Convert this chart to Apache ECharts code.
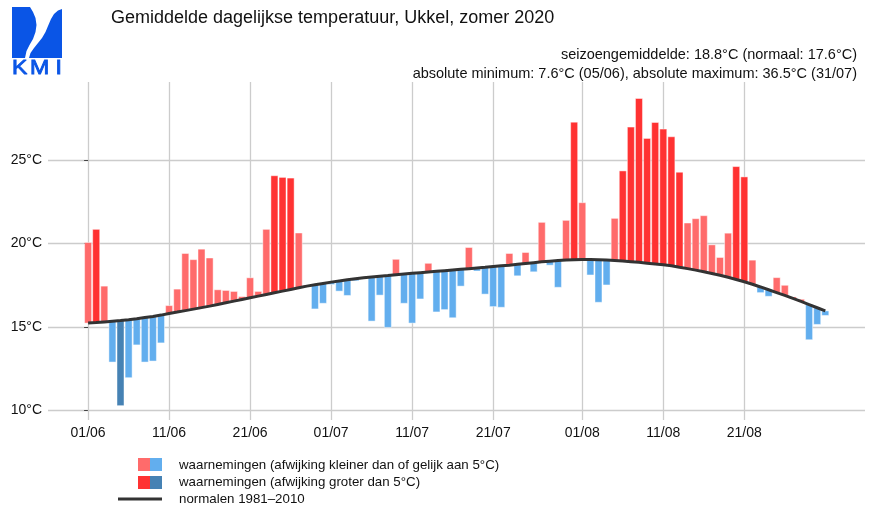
<!DOCTYPE html>
<html lang="nl">
<head>
    <meta charset="utf-8">
    <title>Ukkel zomer 2020</title>
    <script src="https://cdn.jsdelivr.net/npm/echarts@6/dist/echarts.min.js"></script>
    <style>
        * { margin: 0; padding: 0; box-sizing: border-box; }
        html, body { width: 100%; height: 100%; background: #fff; }
        #main { width: 871px; height: 510px; }
    </style>
</head>
<body>
<div id="main"></div>
<script>
    // dag 0 = 01/06/2020
    const tickDays = [0, 10, 20, 30, 40, 50, 61, 71, 81];
    const tickLabels = ['01/06', '11/06', '21/06', '01/07', '11/07', '21/07', '01/08', '11/08', '21/08'];
    const yTicks = [10, 15, 20, 25];

    // gemiddelde dagtemperatuur (°C), 01/06 - 31/08
    const observed = [
        20.06, 20.85, 17.44, 12.88, 10.26, 11.94, 13.91, 12.88, 12.94, 14.03,
        16.27, 17.26, 19.40, 19.03, 19.66, 19.13, 17.22, 17.18, 17.12, 16.81,
        17.94, 17.12, 20.85, 24.07, 23.97, 23.93, 20.63, 17.50, 16.07, 16.41,
        17.54, 17.14, 16.88, 17.76, 17.95, 15.34, 16.90, 14.96, 19.05, 16.41,
        15.22, 16.67, 18.81, 15.89, 16.03, 15.54, 17.44, 19.76, 18.35, 16.96,
        16.21, 16.17, 19.40, 18.06, 19.46, 18.30, 21.27, 18.70, 17.37, 21.39,
        27.29, 22.45, 18.11, 16.47, 17.51, 21.51, 24.36, 26.99, 28.71, 26.31,
        27.27, 26.87, 26.41, 24.28, 21.23, 21.49, 21.67, 19.92, 19.16, 20.62,
        24.62, 24.00, 19.00, 17.05, 16.83, 17.95, 17.49, 16.79, 16.65, 14.22,
        15.14, 15.68
    ];

    // normalen 1981-2010 (°C)
    const normals = [
        15.22, 15.25, 15.29, 15.33, 15.37, 15.42, 15.48, 15.55, 15.62, 15.70,
        15.80, 15.88, 15.97, 16.06, 16.15, 16.24, 16.34, 16.44, 16.54, 16.64,
        16.74, 16.84, 16.94, 17.04, 17.14, 17.24, 17.34, 17.44, 17.52, 17.60,
        17.68, 17.75, 17.82, 17.88, 17.94, 17.99, 18.04, 18.08, 18.13, 18.17,
        18.21, 18.25, 18.29, 18.33, 18.37, 18.41, 18.45, 18.49, 18.53, 18.57,
        18.62, 18.66, 18.70, 18.75, 18.80, 18.85, 18.90, 18.94, 18.98, 19.01,
        19.03, 19.04, 19.04, 19.03, 19.01, 18.98, 18.95, 18.91, 18.87, 18.82,
        18.77, 18.72, 18.66, 18.57, 18.49, 18.40, 18.30, 18.20, 18.09, 17.97,
        17.84, 17.70, 17.55, 17.39, 17.22, 17.05, 16.88, 16.70, 16.52, 16.33,
        16.14, 15.95
    ];

    const FONT = '"Liberation Sans", Arial, sans-serif';
    const colWarm = '#ff6b6b', colHot = '#ff3232';
    const colCool = '#62aeee', colCold = '#4682b4';

    const barData = observed.map((v, i) => [i, v, normals[i]]);
    const lineData = normals.map((v, i) => [i, v]);

    function barColor(obs, norm) {
        const d = obs - norm;
        if (d > 5) return colHot;
        if (d >= 0) return colWarm;
        if (d < -5) return colCold;
        return colCool;
    }

    const chart = echarts.init(document.getElementById('main'), null, { renderer: 'canvas' });

    const legendItems = [
        { type: 'rect', shape: { x: 138, y: 458, width: 12, height: 13 }, style: { fill: colWarm } },
        { type: 'rect', shape: { x: 150, y: 458, width: 12, height: 13 }, style: { fill: colCool } },
        { type: 'rect', shape: { x: 138, y: 476, width: 12, height: 13 }, style: { fill: colHot } },
        { type: 'rect', shape: { x: 150, y: 476, width: 12, height: 13 }, style: { fill: colCold } },
        { type: 'line', shape: { x1: 118, y1: 499, x2: 162, y2: 499 }, style: { stroke: '#333', lineWidth: 3 } },
        { type: 'text', x: 179, y: 465, style: { text: 'waarnemingen (afwijking kleiner dan of gelijk aan 5°C)', font: '13.3px ' + FONT, fill: '#111', textVerticalAlign: 'middle' } },
        { type: 'text', x: 179, y: 482, style: { text: 'waarnemingen (afwijking groter dan 5°C)', font: '13.3px ' + FONT, fill: '#111', textVerticalAlign: 'middle' } },
        { type: 'text', x: 179, y: 499, style: { text: 'normalen 1981\u20132010', font: '13.3px ' + FONT, fill: '#111', textVerticalAlign: 'middle' } }
    ];

    const logoBlue = '#0a55e6';
    const logoFont = '21px ' + FONT;
    const logo = [
        { type: 'polygon', shape: { points: [[12, 7], [30, 7], [33, 12], [35.5, 18], [36.5, 25], [35.5, 32], [33, 39], [29.5, 45], [26.5, 51], [25, 58], [12, 58]] }, style: { fill: logoBlue } },
        { type: 'polygon', shape: { points: [[62, 9], [62, 58], [29, 58], [30.5, 53], [34, 48], [38, 43], [42, 38], [45.5, 32], [48, 26], [51, 19], [54, 14], [58, 10.5]] }, style: { fill: logoBlue } },
        { type: 'text', x: 12, y: 68.5, scaleX: 1.1, style: { text: 'K', font: logoFont, fill: logoBlue, stroke: logoBlue, lineWidth: 0.9, textVerticalAlign: 'middle' } },
        { type: 'text', x: 30, y: 68.5, scaleX: 1.1, style: { text: 'M', font: logoFont, fill: logoBlue, stroke: logoBlue, lineWidth: 0.9, textVerticalAlign: 'middle' } },
        { type: 'text', x: 55.5, y: 68.5, scaleX: 1.1, style: { text: 'I', font: logoFont, fill: logoBlue, stroke: logoBlue, lineWidth: 0.9, textVerticalAlign: 'middle' } }
    ];

    const headers = [
        { type: 'text', x: 111, y: 18, style: { text: 'Gemiddelde dagelijkse temperatuur, Ukkel, zomer 2020', font: '18px ' + FONT, fill: '#111', textVerticalAlign: 'middle' } },
        { type: 'text', x: 857, y: 55, style: { text: 'seizoengemiddelde: 18.8°C (normaal: 17.6°C)', font: '14.5px ' + FONT, fill: '#111', textAlign: 'right', textVerticalAlign: 'middle' } },
        { type: 'text', x: 857, y: 74, style: { text: 'absolute minimum: 7.6°C (05/06), absolute maximum: 36.5°C (31/07)', font: '14.5px ' + FONT, fill: '#111', textAlign: 'right', textVerticalAlign: 'middle' } }
    ];

    const option = {
        animation: false,
        backgroundColor: '#fff',
        grid: { left: 48, right: 6, top: 82, bottom: 100 },
        xAxis: {
            type: 'value',
            min: -4.95,
            max: 95.9,
            axisLine: { show: false },
            axisTick: { show: true, customValues: tickDays, length: 10, lineStyle: { color: '#cccccc', width: 1.3 } },
            axisLabel: {
                customValues: tickDays,
                margin: 16,
                fontSize: 14,
                fontFamily: FONT,
                color: '#111',
                formatter: v => tickLabels[tickDays.indexOf(v)] || ''
            },
            splitLine: { show: true, lineStyle: { color: '#cccccc', width: 1.3 } }
        },
        yAxis: {
            type: 'value',
            min: 10,
            max: 29.7,
            axisLine: { show: false },
            axisTick: { show: true, customValues: yTicks, length: 4, lineStyle: { color: '#444', width: 1 } },
            axisLabel: {
                customValues: yTicks,
                margin: 6,
                fontSize: 14,
                fontFamily: FONT,
                color: '#111',
                formatter: v => v + '°C'
            },
            splitLine: { show: true, lineStyle: { color: '#cccccc', width: 1.3 } }
        },
        series: [
            {
                type: 'custom',
                name: 'waarnemingen',
                data: barData,
                encode: { x: 0, y: [1, 2] },
                renderItem: (params, api) => {
                    const d = api.value(0), obs = api.value(1), norm = api.value(2);
                    const p1 = api.coord([d, obs]);
                    const p2 = api.coord([d, norm]);
                    const w = 7;
                    return {
                        type: 'rect',
                        shape: { x: p1[0] - w / 2, y: Math.min(p1[1], p2[1]), width: w, height: Math.abs(p1[1] - p2[1]) },
                        style: { fill: barColor(obs, norm), stroke: 'rgba(255,255,255,0.45)', lineWidth: 1 }
                    };
                }
            },
            {
                type: 'line',
                name: 'normalen 1981-2010',
                data: lineData,
                showSymbol: false,
                smooth: false,
                lineStyle: { color: '#333', width: 3 },
                z: 5
            }
        ],
        graphic: [].concat(logo, headers, legendItems)
    };

    chart.setOption(option);
</script>
</body>
</html>
